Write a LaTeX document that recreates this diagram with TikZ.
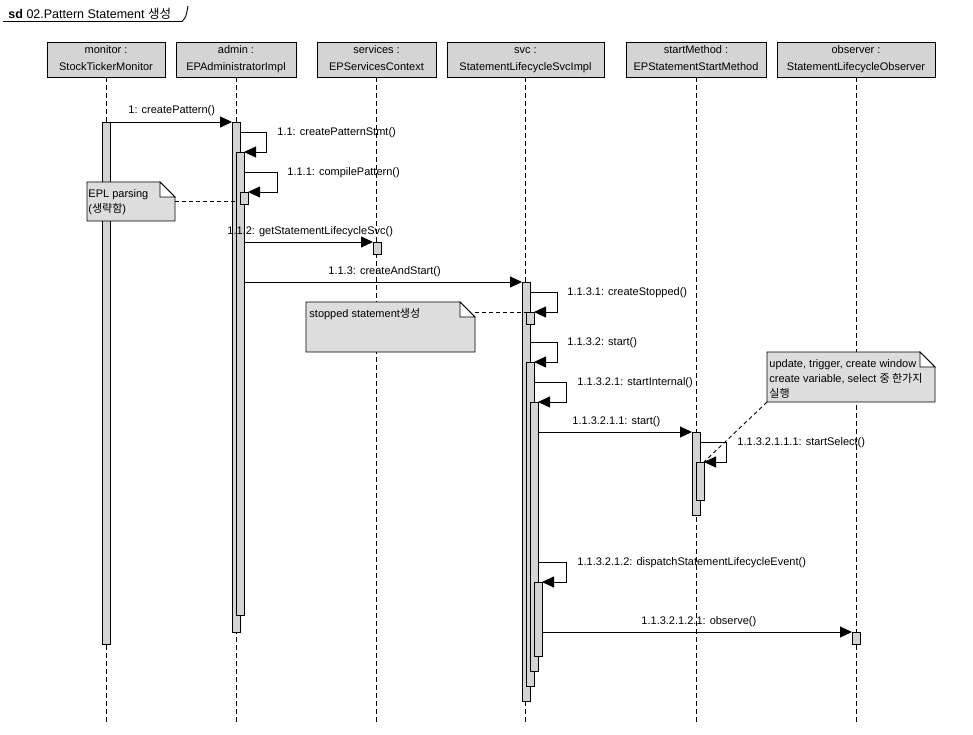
\documentclass[tikz,border=0pt]{standalone}
\usepackage{fontspec}
\setmainfont{Liberation Sans}
\newfontfamily\krfont{Noto Sans CJK KR}
\usetikzlibrary{arrows.meta}
\definecolor{boxgray}{RGB}{212,212,212}
\definecolor{notegray}{RGB}{221,221,221}
\newcommand{\dognote}[1]{%
  \draw[fill=notegray] (#1.south west) -- (#1.north west) -- ([xshift=-15pt]#1.north east)
    -- ([yshift=-15pt]#1.north east) -- (#1.south east) -- cycle;
  \draw[fill=white] ([xshift=-15pt]#1.north east) -- ([xshift=-15pt,yshift=-15pt]#1.north east)
    -- ([yshift=-15pt]#1.north east) -- cycle;}
\begin{document}
\begin{tikzpicture}
[
    x=1pt, y=-1pt, line width=0.9pt,
    every node/.style={font=\fontsize{11}{15}\selectfont},
    head/.style={draw, fill=boxgray, minimum height=35, inner sep=0, align=center, text height=25, text depth=3, font=\fontsize{11}{17}\selectfont},
    life/.style={dash pattern=on 5pt off 3pt},
    act/.style={draw, fill=boxgray, minimum width=8, inner sep=0, outer sep=0},
    msg/.style={-{Triangle[length=12pt,width=11pt]}},
    lbl/.style={anchor=base west, inner sep=0},
    notebox/.style={inner sep=0, outer sep=0},
    notetext/.style={anchor=base west, align=left, inner sep=0, font=\fontsize{11}{15}\selectfont},
    noteline/.style={dash pattern=on 4pt off 3pt},
]
\useasboundingbox (0,0) rectangle (973,735);

\node[lbl] (title) at (8,18.5) {\fontsize{12.5}{15}\selectfont\textbf{sd} 02.Pattern Statement {\krfont 생성}};
\draw (3,21.5) -- (182,21.5) .. controls (186,17) .. (188,6);

\node[head, minimum width=118] (monitor) at (106,59.5) {monitor :\\StockTickerMonitor};
\node[head, minimum width=120] (admin) at (236,59.5) {admin :\\EPAdministratorImpl};
\node[head, minimum width=119] (services) at (376.5,59.5) {services :\\EPServicesContext};
\node[head, minimum width=157] (svc) at (525.5,59.5) {svc :\\StatementLifecycleSvcImpl};
\node[head, minimum width=140] (startMethod) at (696,59.5) {startMethod :\\EPStatementStartMethod};
\node[head, minimum width=158] (observer) at (856,59.5) {observer :\\StatementLifecycleObserver};
\foreach \n in {monitor,admin,services,svc,startMethod,observer}
    \draw[life] (\n.south) -- (\n.south |- 0,724);

\node[act, minimum height=522] (a0) at (106,383) {};
\node[act, minimum height=510] (a1) at (236,377) {};
\node[act, minimum height=463] (a2) at (240,383.5) {};
\node[act, minimum height=12] (a3) at (244,198) {};
\node[act, minimum height=12] (s1) at (377,248) {};
\node[act, minimum height=419] (b1) at (526,491.5) {};
\node[act, minimum height=12] (b0) at (530,318) {};
\node[act, minimum height=324] (b2) at (530,524) {};
\node[act, minimum height=269] (b3) at (534,536.5) {};
\node[act, minimum height=74] (b4) at (538,619) {};
\node[act, minimum height=83] (c1) at (696,473.5) {};
\node[act, minimum height=38] (c2) at (700,481) {};
\node[act, minimum height=12] (o1) at (856,638) {};

\node[notebox, minimum width=88, minimum height=39] (eplNote) at (131,201.5) {};
\dognote{eplNote}
\node[notetext] (eplText) at ([xshift=1pt,yshift=-31pt]eplNote.north west) {EPL parsing\\({\krfont 생략함})};
\node[notebox, minimum width=169, minimum height=50] (stopNote) at (390.5,327) {};
\dognote{stopNote}
\node[notetext] (stopText) at ([xshift=3pt,yshift=-15pt]stopNote.north west) {stopped statement{\krfont 생성}};
\node[notebox, minimum width=168, minimum height=50] (updNote) at (851,377) {};
\dognote{updNote}
\node[notetext] (updText) at ([xshift=2pt,yshift=-45pt]updNote.north west) {update, trigger, create window\\create variable, select {\krfont 중 한가지}\\{\krfont 실행}};

\draw[noteline] (eplNote.east) -- (a2.west |- eplNote.east);
\draw[noteline] (stopNote.east |- b0.north) -- (b0.north west);
\draw[noteline] (updNote.south west) -- (c2.north east);

\draw[msg] (a0.north east) -- (a1.north west);
\draw[msg] (a1.east |- 0,132) -- ++(26,0) |- (a2.north east);
\draw[msg] (a2.east |- 0,172) -- ++(33,0) |- (a3.north east);
\draw[msg] (a2.east |- s1.north) -- (s1.north west);
\draw[msg] (a2.east |- b1.north) -- (b1.north west);
\draw[msg] (b1.east |- 0,292) -- ++(27,0) |- (b0.north east);
\draw[msg] (b1.east |- 0,342) -- ++(27,0) |- (b2.north east);
\draw[msg] (b2.east |- 0,382) -- ++(32,0) |- (b3.north east);
\draw[msg] (b3.east |- c1.north) -- (c1.north west);
\draw[msg] (c1.east |- 0,442) -- ++(26,0) |- (c2.north east);
\draw[msg] (b3.east |- 0,562) -- ++(28,0) |- (b4.north east);
\draw[msg] (b4.east |- o1.north) -- (o1.north west);

\node[lbl] (l1) at (128,114) {1: createPattern()};
\node[lbl] (l11) at (277,135.5) {1.1: createPatternStmt()};
\node[lbl] (l111) at (287,175.5) {1.1.1: compilePattern()};
\node[lbl] (l112) at (227,234) {1.1.2: getStatementLifecycleSvc()};
\node[lbl] (l113) at (328,274.5) {1.1.3: createAndStart()};
\node[lbl] (l1131) at (567,295.5) {1.1.3.1: createStopped()};
\node[lbl] (l1132) at (567,345.5) {1.1.3.2: start()};
\node[lbl] (l11321) at (577,385.5) {1.1.3.2.1: startInternal()};
\node[lbl] (l113211) at (572,424.5) {1.1.3.2.1.1: start()};
\node[lbl] (l1132111) at (737,445) {1.1.3.2.1.1.1: startSelect()};
\node[lbl] (l113212) at (577,565.5) {1.1.3.2.1.2: dispatchStatementLifecycleEvent()};
\node[lbl] (l1132121) at (641,624.5) {1.1.3.2.1.2.1: observe()};
\end{tikzpicture}
\end{document}
